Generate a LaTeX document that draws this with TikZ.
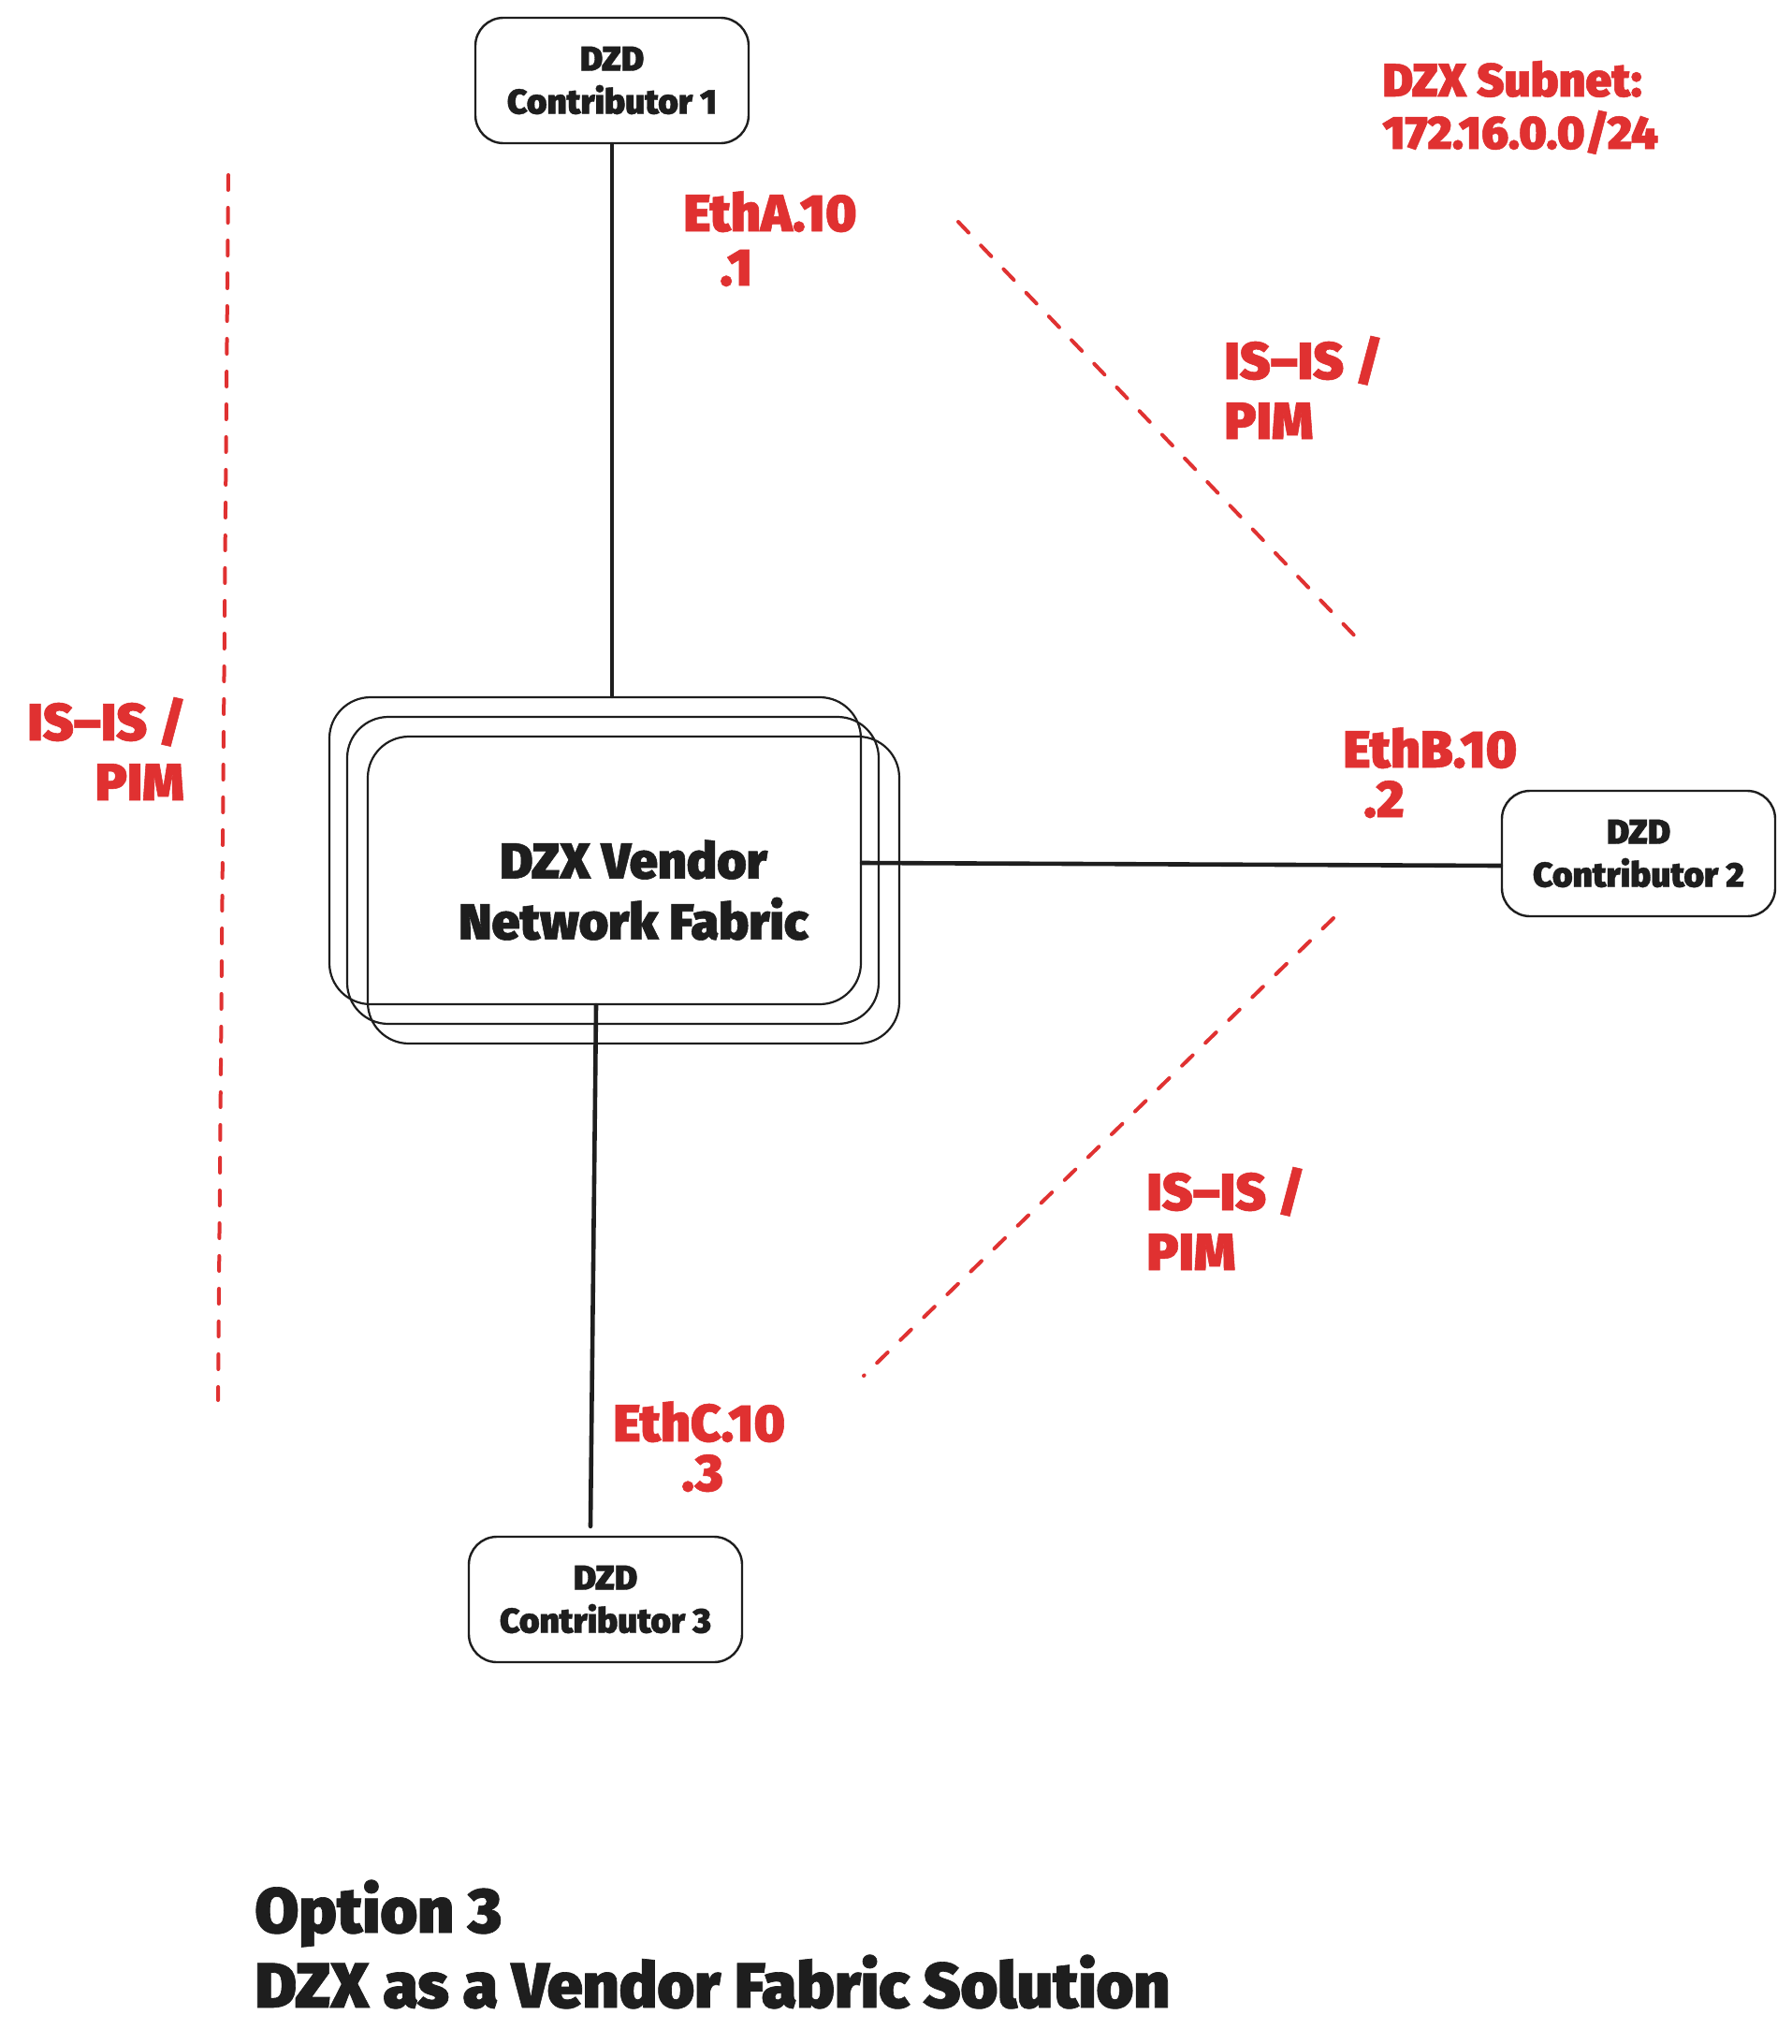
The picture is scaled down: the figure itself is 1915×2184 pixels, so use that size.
\documentclass[tikz,border=0pt]{standalone}
\usepackage{fontspec}
\setmainfont{Fira Sans}[BoldFont={Fira Sans Black},BoldFeatures={FakeBold=1}]
\usetikzlibrary{positioning}
\definecolor{inkblack}{HTML}{1E1E1E}
\definecolor{labelred}{HTML}{E03131}
\tikzset{dzdbox/.style={
    % The shape:
    rectangle,
    rounded corners=15pt,
    % The size:
    minimum width=146pt,
    minimum height=67pt,
    % The border:
    line width=1.2pt,
    draw=inkblack,
    % Font
    text=inkblack,
    align=center,
    font=\bfseries\fontsize{18.5}{23}\selectfont
    },
    fabricbox/.style={
    rectangle,
    rounded corners=22pt,
    minimum width=284pt,
    minimum height=164pt,
    line width=1.1pt,
    draw=inkblack,
    },
    redlabel/.style={
    inner sep=0pt,
    anchor=base west,
    text=labelred,
    font=\bfseries\fontsize{28}{32}\selectfont
    },
    titletext/.style={
    inner sep=0pt,
    anchor=base west,
    text=inkblack,
    font=\bfseries\fontsize{34}{40}\selectfont
    },
    fabriclink/.style={line width=2.3pt, draw=inkblack, line cap=round},
    isislink/.style={line width=2pt, draw=labelred, dash pattern=on 8pt off 9.5pt, line cap=round},
}

\begin{document}
\begin{tikzpicture}[x=0.5pt,y=-0.5pt]
    \fill[white] (0,0) rectangle (1915,2184);
    \useasboundingbox (0,0) rectangle (1915,2184);

    % contributors
    \node (c1) [dzdbox] at (654,86)   {DZD\\Contributor 1};
    \node (c2) [dzdbox] at (1751,912) {DZD\\Contributor 2};
    \node (c3) [dzdbox] at (647,1709) {DZD\\Contributor 3};

    % vendor fabric, a stack of three
    \node (fabricA) [fabricbox] at (636,909) {};
    \node (fabricB) [fabricbox] at (655,930) {};
    \node (fabric)  [fabricbox,text=inkblack,align=center,
                     font=\bfseries\fontsize{27}{32.5}\selectfont] at (677,951) {DZX Vendor\\Network Fabric};

    % links
    \draw [fabriclink] (c1.south) -- (c1.south |- fabricA.north);
    \draw [fabriclink] ([yshift=-6.5pt]fabricA.east) -- ([yshift=-6.5pt]c2.west);
    \draw [fabriclink] ([xshift=0.5pt]fabricA.south) -- ([xshift=-8pt,yshift=5pt]c3.north);

    % IS-IS / PIM adjacencies
    \coordinate (leftTop) at (244,187);
    \coordinate (leftEnd) at (233,1496);
    \coordinate (upperTop) at (1024,237);
    \coordinate (upperEnd) at (1454,686);
    \coordinate (lowerTop) at (1425,981);
    \coordinate (lowerEnd) at (923,1470);
    \draw [isislink] (leftTop) -- (leftEnd);
    \draw [isislink] (upperTop) -- (upperEnd);
    \draw [isislink] (lowerTop) -- (lowerEnd);

    % interface labels
    \node (ethA)   [redlabel] at (730,247)  {EthA.10};
    \node (ethAip) [redlabel] at (769,305)  {.1};
    \node (ethB)   [redlabel] at (1435,820) {EthB.10};
    \node (ethBip) [redlabel] at (1457,873) {.2};
    \node (ethC)   [redlabel] at (655,1540) {EthC.10};
    \node (ethCip) [redlabel] at (728,1593) {.3};

    \node (isisUpper) [redlabel] at (1308,405)  {IS--IS /};
    \node (pimUpper)  [redlabel] at (1308,469)  {PIM};
    \node (isisLeft)  [redlabel,anchor=base east] at (199,791) {IS--IS /};
    \node (pimLeft)   [redlabel,anchor=base east] at (197,855) {PIM};
    \node (isisLower) [redlabel] at (1225,1293) {IS--IS /};
    \node (pimLower)  [redlabel] at (1225,1357) {PIM};

    \node (subnet)   [redlabel,font=\bfseries\fontsize{25}{28}\selectfont] at (1477,103) {DZX Subnet:};
    \node (subnetIP) [redlabel,font=\bfseries\fontsize{25}{28}\selectfont] at (1477,159) {172.16.0.0/24};

    % title
    \node (title)    [titletext] at (272,2065) {Option 3};
    \node (subtitle) [titletext] at (272,2145) {DZX as a Vendor Fabric Solution};
\end{tikzpicture}
\end{document}
